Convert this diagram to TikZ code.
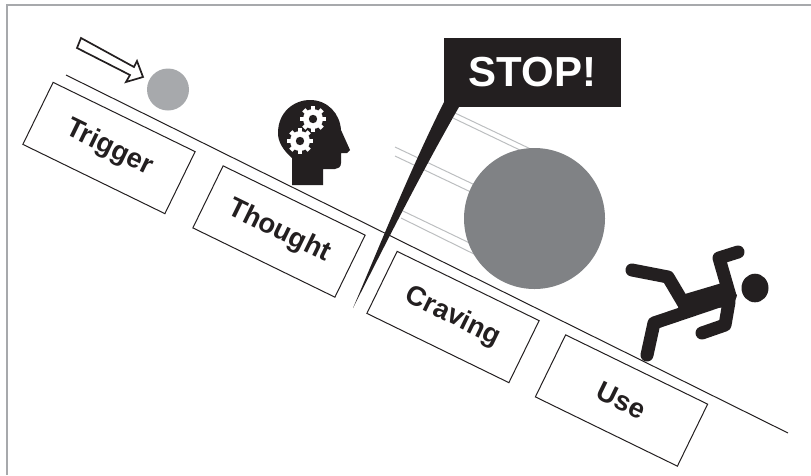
\documentclass[tikz,border=0pt]{standalone}
\usepackage{xcolor}
\usepackage{fontspec}
\setmainfont{Liberation Sans}
\usepackage{tikz}
\definecolor{inkblack}{HTML}{231F20}
\definecolor{ballgray}{HTML}{808285}
\definecolor{lightgray}{HTML}{A7A9AC}
\definecolor{trailgray}{HTML}{BCBEC0}

\begin{document}
\begin{tikzpicture}[
    x=1pt, y=-1pt,
    stage/.style={draw=inkblack, line width=1pt, minimum width=158pt, minimum height=69pt, rotate=-26,
        align=center, font=\fontsize{27.5}{30}\selectfont\bfseries, text=inkblack},
    trail/.style={trailgray, line width=1pt},
    limb/.style={inkblack, line width=13pt, line cap=round, line join=round},
    ball/.style={circle, inner sep=0pt}
]
\useasboundingbox (0,0) rectangle (811,475);
\draw[lightgray, line width=2pt] (7,475) -- (7,5) -- (811,5);

% slope and stages
\coordinate (slopetop) at (66,75);
\coordinate (slopeend) at (788,433);
\draw[inkblack, line width=1pt] (slopetop) -- (slopeend);
\node[stage] (trigger) at (109,148) {Trigger};
\node[stage] (thought) at (279,231.5) {Thought};
\node[stage] (craving) at (453,317) {Craving};
\node[stage] (use) at (621.5,400.5) {Use};

% small ball and its arrow
\node[ball, fill=lightgray, minimum size=42pt] (smallball) at (168,89.5) {};
\draw[inkblack, line width=1.7pt, fill=white] (81,38) -- (134,67) -- (137,61) -- (143,77) -- (126,82) -- (130,75) -- (77,48) -- cycle;

% big ball with its trails
\draw[trail] (455,113) -- (537,152);
\draw[trail] (453,118) -- (524,152);
\draw[trail] (395,147) -- (475,185);
\draw[trail] (395,156) -- (475,194);
\draw[trail] (403,211) -- (478,247);
\draw[trail] (401,218) -- (478,256);
\node[ball, fill=ballgray, minimum size=141pt] (bigball) at (534.5,218.5) {};

% stop sign
\node[fill=inkblack, text=white, minimum width=177pt, minimum height=69pt, inner sep=0pt,
    font=\fontsize{42}{44}\selectfont\bfseries] (stop) at (532.5,72.5) {STOP!};
\fill[inkblack] (444,102) -- (459,107) .. controls (420,175) and (385,245) .. (353,308)
    .. controls (380,245) and (410,170) .. cycle;

% head with gears
\fill[inkblack] (292,185) -- (292,158) .. controls (283,150) and (278,142) .. (278,133)
    .. controls (278,112) and (294,100) .. (310,100) .. controls (328,100) and (340,114) .. (341,130)
    -- (350,150) -- (347,153) -- (341,153) -- (341,163) .. controls (341,167) and (338,169) .. (335,169)
    -- (323,169) -- (323,185) -- cycle;
\foreach \gx/\gy in {313/119, 300/141} {
    \fill[white] (\gx,\gy) circle (10);
    \foreach \ang in {0,45,...,315}
        \draw[white, line width=4.5pt] (\gx,\gy) -- ++(\ang:13);
    \fill[inkblack] (\gx,\gy) circle (4.2);
}

% falling figure
\fill[inkblack] (755,288) ellipse (13.5 and 14.3);
\fill[inkblack, line join=round] (685,294) -- (722,283) -- (737,295) -- (733,307) -- (677,310) -- cycle;
\draw[limb] (632,270) -- (668,277) -- (684,304);
\draw[limb] (738,252) -- (719,258) -- (730,296);
\draw[limb] (647,355) -- (654,323) -- (722,300);
\draw[limb] (702,333) -- (725,325) -- (729,302);
\end{tikzpicture}
\end{document}
